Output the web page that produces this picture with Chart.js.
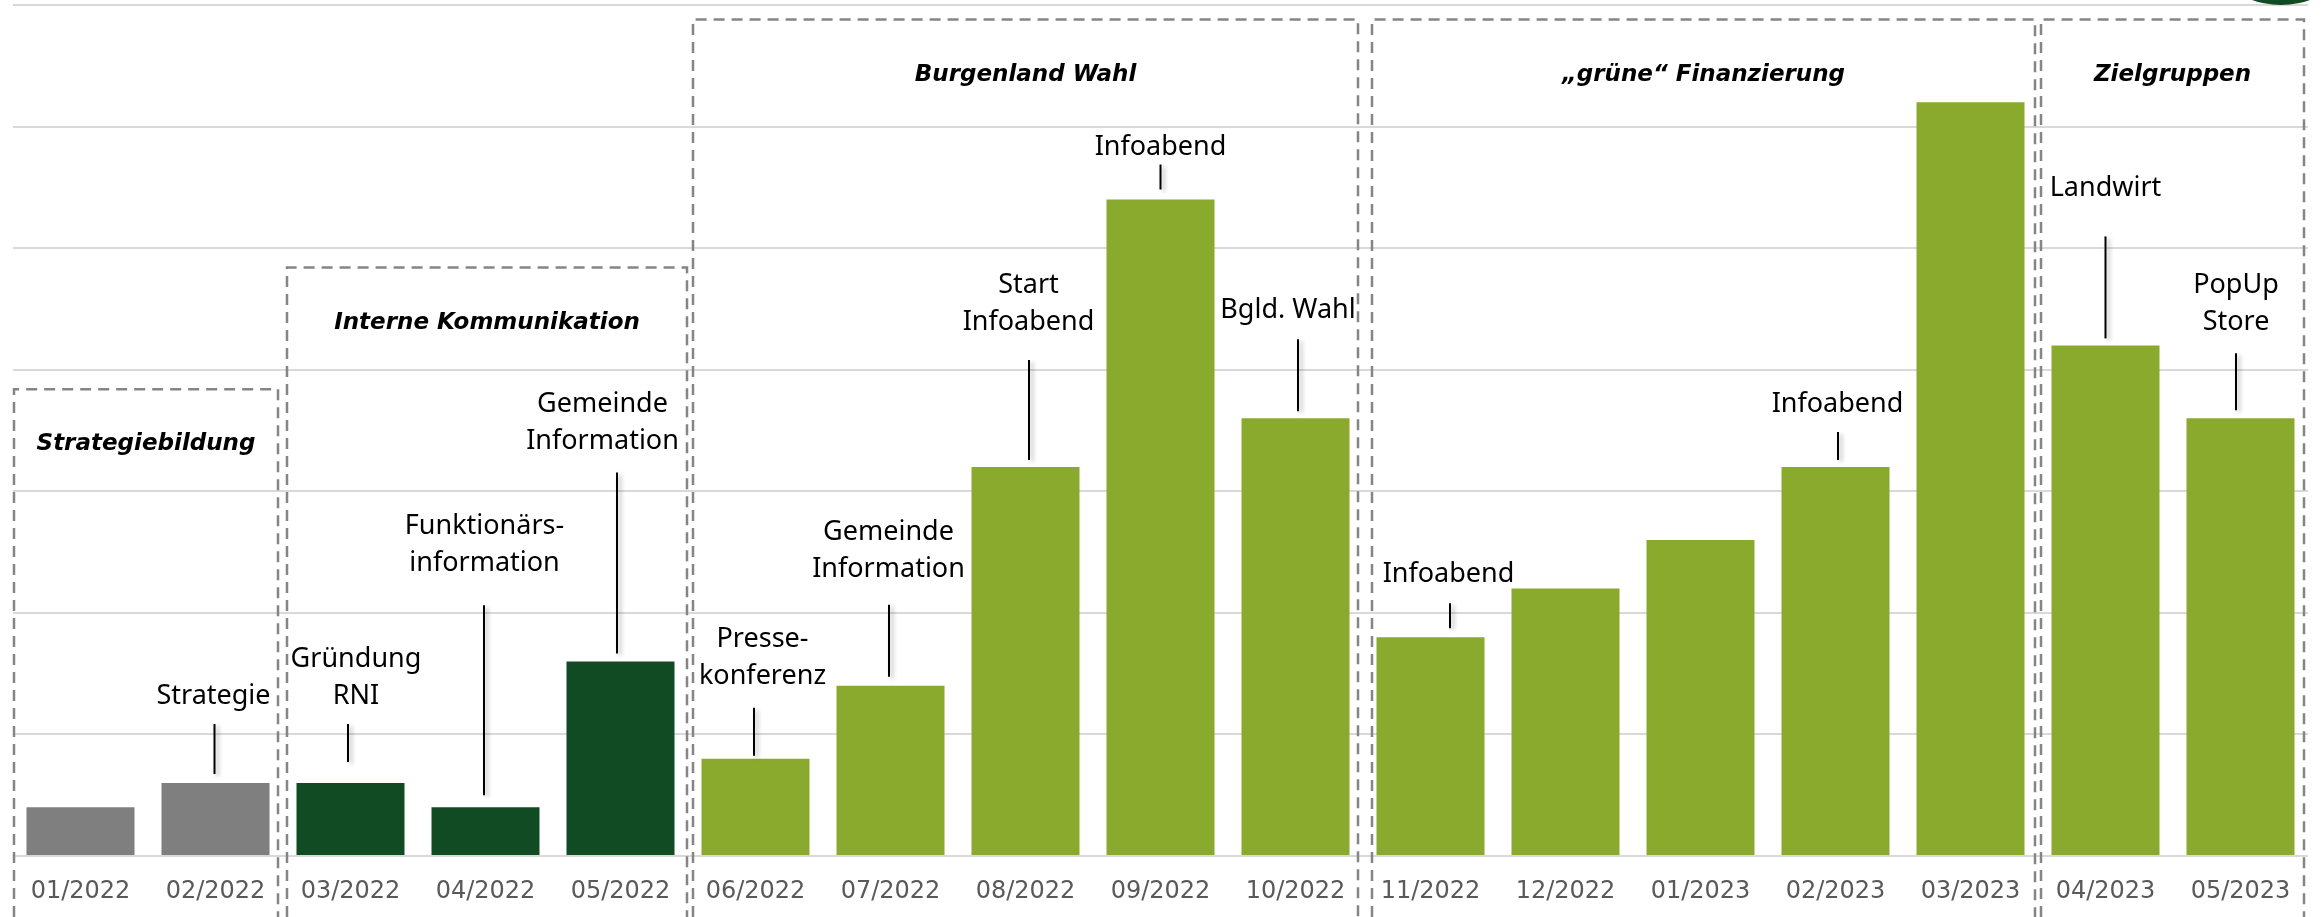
<!DOCTYPE html>
<html>
<head>
<meta charset="utf-8">
<title>Zeitleiste</title>
<script src="https://cdn.jsdelivr.net/npm/chart.js@4/dist/chart.umd.min.js"></script>
<style>
  html, body { margin: 0; padding: 0; background: #ffffff; }
  #wrap { width: 2321px; height: 917px; }
</style>
</head>
<body>
<div id="wrap"><canvas id="barChart" width="2321" height="917"></canvas></div>
<script>
// data (one grid step = 5)
const months = ["01/2022", "02/2022", "03/2022", "04/2022", "05/2022", "06/2022", "07/2022", "08/2022", "09/2022",
  "10/2022", "11/2022", "12/2022", "01/2023", "02/2023", "03/2023", "04/2023", "05/2023"];
const activity = [2, 3, 3, 2, 8, 4, 7, 16, 27, 18, 9, 11, 13, 16, 31, 21, 18];
const yMax = 35;
const yStep = 5;

// phases (first / last month index)
const phaseTitles = ["Strategiebildung", "Interne Kommunikation", "Burgenland Wahl", "„grüne“ Finanzierung", "Zielgruppen"];
const phaseFirst = [0, 2, 5, 10, 15];
const phaseLast = [1, 4, 9, 14, 16];

// event notes per month
const notes = [null, "Strategie", "Gründung\nRNI", "Funktionärs-\ninformation", "Gemeinde\nInformation",
  "Presse-\nkonferenz", "Gemeinde\nInformation", "Start\nInfoabend", "Infoabend", "Bgld. Wahl", "Infoabend",
  null, null, "Infoabend", null, "Landwirt", "PopUp\nStore"];

// ---- layout / style ----
const phaseColors = ["#7f7f7f", "#104b24", "#8aaa2d", "#8aaa2d", "#8aaa2d"];
const phaseBoxTop = [19.2, 24.2, 34.4, 34.4, 34.4];   // in y units
const phaseInset = [[1, -5], [4, -1], [5, -5], [9, -3], [3, -4]];
// [gap above bar, leader length, text gap, leader dx, text dx]
const noteLayout = [null, [9, 50, 28, -1, -2], [21, 38, 28, -2.5, 5.5], [12, 190, 42, -1.5, -1], [8, 181, 31, -3.5, -18],
  [3, 48, 31, -1.5, 7], [9, 72, 35, -1.5, -2], [7, 100, 37.5, 3.5, 3], [10, 25, 17, 0, 0], [7, 72, 29, 2.5, -7.5],
  [9, 25, 28.5, 19.5, 18], null, null, [7, 28, 28, 2.5, 2], null, [7, 102, 48, 0, 0], [8, 57, 30.6, -4.5, -4.5]];

function barColorsFor() {
  const colors = [];
  months.forEach((_, i) => {
    const p = phaseFirst.findIndex((f, k) => i >= f && i <= phaseLast[k]);
    colors.push(phaseColors[p]);
  });
  return colors;
}

const overlayPlugin = {
  id: "overlay",
  afterDatasetsDraw(chart) {
    const ctx = chart.ctx;
    const x = chart.scales.x;
    const y = chart.scales.y;
    const meta = chart.getDatasetMeta(0);
    const half = (x.getPixelForValue(1) - x.getPixelForValue(0)) / 2;
    const bottom = chart.height;

    // dashed phase boxes + titles
    ctx.save();
    ctx.strokeStyle = "#858585";
    ctx.lineWidth = 2.5;
    ctx.setLineDash([11, 7]);
    phaseTitles.forEach((title, k) => {
      const left = x.getPixelForValue(phaseFirst[k]) - half + phaseInset[k][0];
      const right = x.getPixelForValue(phaseLast[k]) + half + phaseInset[k][1];
      const top = y.getPixelForValue(phaseBoxTop[k]);
      ctx.beginPath();
      ctx.moveTo(left, bottom);
      ctx.lineTo(left, top);
      ctx.lineTo(right, top);
      ctx.lineTo(right, bottom);
      ctx.stroke();
    });
    ctx.setLineDash([]);
    ctx.fillStyle = "#000000";
    ctx.font = "italic bold 23px 'DejaVu Sans'";
    ctx.textAlign = "center";
    ctx.textBaseline = "middle";
    phaseTitles.forEach((title, k) => {
      const left = x.getPixelForValue(phaseFirst[k]) - half + phaseInset[k][0];
      const right = x.getPixelForValue(phaseLast[k]) + half + phaseInset[k][1];
      const top = y.getPixelForValue(phaseBoxTop[k]);
      ctx.fillText(title, (left + right) / 2, top + 55);
    });
    ctx.restore();

    // notes with leader lines
    ctx.save();
    notes.forEach((note, i) => {
      if (!note) return;
      const [gap, len, textGap, ldx, tdx] = noteLayout[i];
      const bar = meta.data[i];
      const lx = bar.x + ldx;
      const lineBottom = bar.y - gap;
      const lineTop = lineBottom - len;

      ctx.save();
      ctx.shadowColor = "rgba(0,0,0,0.3)";
      ctx.shadowBlur = 4;
      ctx.shadowOffsetX = 3;
      ctx.shadowOffsetY = 2;
      ctx.strokeStyle = "#000000";
      ctx.lineWidth = 2;
      ctx.beginPath();
      ctx.moveTo(lx, lineBottom);
      ctx.lineTo(lx, lineTop);
      ctx.stroke();
      ctx.restore();

      const lines = note.split("\n");
      ctx.fillStyle = "#000000";
      ctx.font = "27px 'Noto Sans'";
      ctx.textAlign = "center";
      ctx.textBaseline = "middle";
      const lastY = lineTop - textGap;
      lines.forEach((line, j) => {
        ctx.fillText(line, bar.x + tdx, lastY - (lines.length - 1 - j) * 37);
      });
    });
    ctx.restore();

    // piece of the logo at the top right corner
    ctx.save();
    ctx.fillStyle = "#104b24";
    ctx.beginPath();
    ctx.arc(2281, -81.6, 86.6, 0, Math.PI * 2);
    ctx.fill();
    ctx.restore();
  }
};

window.addEventListener("DOMContentLoaded", () => {
  new Chart(document.getElementById("barChart"), {
    type: "bar",
    data: {
      labels: months,
      datasets: [{
        data: activity,
        backgroundColor: barColorsFor(),
        borderWidth: 0,
        barPercentage: 0.8,
        categoryPercentage: 1
      }]
    },
    options: {
      responsive: false,
      animation: false,
      devicePixelRatio: 1,
      layout: { padding: { left: 13, right: 13, top: 5, bottom: 14 } },
      scales: {
        x: {
          grid: { display: false, drawTicks: false },
          border: { display: false },
          ticks: {
            color: "#595959",
            font: { family: "DejaVu Sans", size: 24 },
            padding: 21,
            maxRotation: 0,
            autoSkip: false
          },
          afterFit(scale) {
            scale.height = 47;
          }
        },
        y: {
          min: 0,
          max: yMax,
          ticks: { display: false, stepSize: yStep },
          grid: { color: "#d9d9d9", lineWidth: 2, drawTicks: false },
          border: { display: false }
        }
      },
      plugins: {
        legend: { display: false },
        tooltip: { enabled: false }
      }
    },
    plugins: [overlayPlugin]
  });
});
</script>
</body>
</html>
